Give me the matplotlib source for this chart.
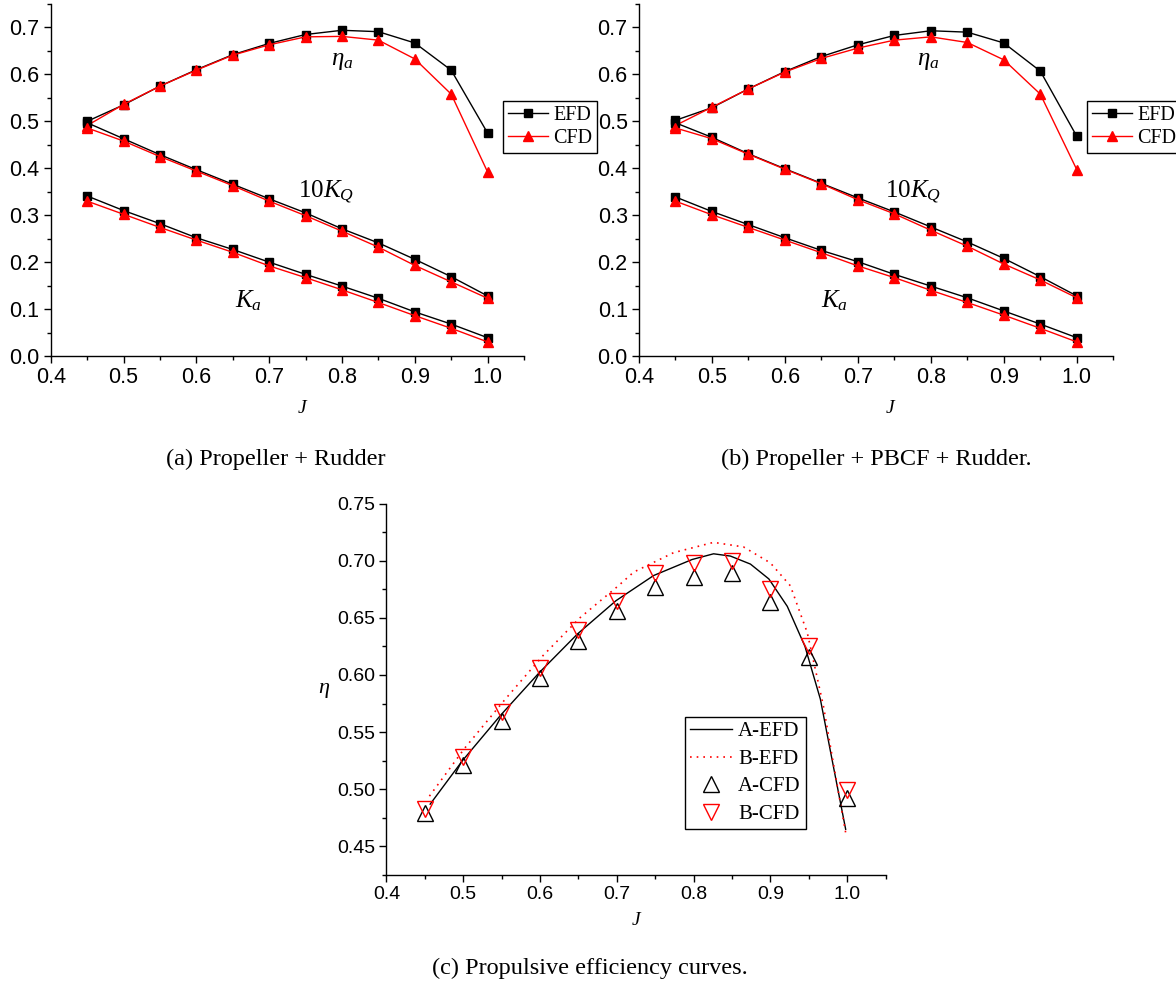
import numpy as np
import matplotlib.pyplot as plt
from matplotlib.ticker import MultipleLocator, FormatStrFormatter

J = [0.45, 0.50, 0.55, 0.60, 0.65, 0.70, 0.75, 0.80, 0.85, 0.90, 0.95, 1.00]

# (a) Propeller + Rudder
a_eta_efd = [0.500, 0.535, 0.575, 0.610, 0.642, 0.666, 0.685, 0.694, 0.691, 0.667, 0.609, 0.475]
a_eta_cfd = [0.491, 0.536, 0.575, 0.609, 0.641, 0.663, 0.680, 0.681, 0.673, 0.633, 0.558, 0.392]
a_kq_efd = [0.497, 0.463, 0.429, 0.397, 0.366, 0.335, 0.305, 0.271, 0.241, 0.206, 0.169, 0.128]
a_kq_cfd = [0.486, 0.458, 0.425, 0.394, 0.363, 0.330, 0.299, 0.266, 0.232, 0.193, 0.158, 0.123]
a_ka_efd = [0.341, 0.310, 0.282, 0.252, 0.227, 0.200, 0.174, 0.149, 0.123, 0.094, 0.068, 0.039]
a_ka_cfd = [0.330, 0.302, 0.274, 0.247, 0.221, 0.192, 0.167, 0.141, 0.114, 0.086, 0.059, 0.030]

# (b) Propeller + PBCF + Rudder
b_eta_efd = [0.502, 0.529, 0.569, 0.606, 0.638, 0.663, 0.683, 0.693, 0.690, 0.667, 0.607, 0.468]
b_eta_cfd = [0.491, 0.530, 0.569, 0.605, 0.634, 0.656, 0.673, 0.680, 0.668, 0.631, 0.558, 0.397]
b_kq_efd = [0.497, 0.466, 0.431, 0.399, 0.368, 0.337, 0.307, 0.275, 0.243, 0.208, 0.169, 0.128]
b_kq_cfd = [0.486, 0.463, 0.430, 0.398, 0.367, 0.333, 0.303, 0.268, 0.234, 0.196, 0.162, 0.124]
b_ka_efd = [0.339, 0.308, 0.280, 0.252, 0.225, 0.201, 0.174, 0.149, 0.124, 0.096, 0.068, 0.039]
b_ka_cfd = [0.330, 0.301, 0.274, 0.247, 0.220, 0.192, 0.167, 0.140, 0.114, 0.087, 0.059, 0.030]

# (c) propulsive efficiency
c_a_cfd = [0.479, 0.521, 0.560, 0.597, 0.630, 0.656, 0.677, 0.686, 0.689, 0.664, 0.616, 0.492]
c_b_cfd = [0.483, 0.528, 0.568, 0.606, 0.639, 0.665, 0.689, 0.698, 0.700, 0.675, 0.625, 0.499]
c_a_efd_j = [0.457, 0.499, 0.549, 0.599, 0.649, 0.699, 0.748, 0.798, 0.826, 0.848, 0.874,
             0.898, 0.922, 0.945, 0.965, 0.982, 0.998]
c_a_efd = [0.487, 0.525, 0.565, 0.602, 0.636, 0.665, 0.687, 0.701, 0.706, 0.704, 0.697,
           0.684, 0.660, 0.625, 0.579, 0.520, 0.465]
c_b_efd_j = [0.456, 0.502, 0.555, 0.604, 0.652, 0.702, 0.722, 0.774, 0.826, 0.865, 0.900,
             0.926, 0.948, 0.969, 0.985, 0.998]
c_b_efd = [0.494, 0.536, 0.579, 0.617, 0.650, 0.678, 0.690, 0.707, 0.716, 0.712, 0.698,
           0.678, 0.637, 0.573, 0.511, 0.462]

W, H = 1176, 986
plt.rcParams['font.family'] = 'Liberation Sans'
plt.rcParams['mathtext.fontset'] = 'custom'
plt.rcParams['mathtext.rm'] = 'Liberation Serif'
plt.rcParams['mathtext.it'] = 'Liberation Serif:italic'
plt.rcParams['axes.linewidth'] = 1.0

fig = plt.figure(figsize=(W / 100, H / 100), dpi=100)
serif = 'Liberation Serif'


def px_axes(left, top, right, bottom):
    return fig.add_axes([left / W, 1 - bottom / H, (right - left) / W, (bottom - top) / H])


def style(ax, ymin, ymax, ymaj, ymin_step, yfmt, fs):
    ax.set_xlim(0.4, 1.05)
    ax.set_ylim(ymin, ymax)
    for s in ['top', 'right']:
        ax.spines[s].set_visible(False)
    ax.xaxis.set_major_locator(MultipleLocator(0.1))
    ax.xaxis.set_minor_locator(MultipleLocator(0.05))
    ax.yaxis.set_major_locator(MultipleLocator(ymaj))
    ax.yaxis.set_minor_locator(MultipleLocator(ymin_step))
    ax.xaxis.set_major_formatter(FormatStrFormatter('%.1f'))
    ax.yaxis.set_major_formatter(FormatStrFormatter(yfmt))
    ax.tick_params(which='major', direction='out', length=5, width=1, labelsize=fs, pad=3)
    ax.tick_params(which='minor', direction='out', length=3, width=1)


def kt_panel(ax, eta_e, eta_c, kq_e, kq_c, ka_e, ka_c, leg_left, ann):
    style(ax, 0, 0.75, 0.1, 0.05, '%.1f', 15.5)
    for ye, yc in [(eta_e, eta_c), (kq_e, kq_c), (ka_e, ka_c)]:
        ax.plot(J, ye, color='black', lw=1, marker='s', ms=5.5, label='EFD')
        ax.plot(J, yc, color='red', lw=1, marker='^', ms=6.5, label='CFD')
    h, l = ax.get_legend_handles_labels()
    fig.legend(h[:2], l[:2], loc='upper left', bbox_to_anchor=(leg_left / W, 1 - 101 / H),
               bbox_transform=fig.transFigure, borderaxespad=0, frameon=True, fancybox=False,
               edgecolor='black', framealpha=1, prop={'family': serif, 'size': 14.5},
               handlelength=2.0, handletextpad=0.25, borderpad=0.25, labelspacing=0.2)
    ax.text(ann[0], 0.630, r'$\eta_a$', fontsize=18, ha='left', va='center')
    ax.text(ann[1], 0.351, r'$\mathrm{10}K_Q$', fontsize=18, ha='left', va='center')
    ax.text(ann[2], 0.117, r'$K_a$', fontsize=18, ha='left', va='center')
    ax.set_xlabel('J', fontsize=14, family=serif, style='italic')
    ax.xaxis.set_label_coords(0.53, -0.125)


ax1 = px_axes(50.7, 4, 524, 356)
kt_panel(ax1, a_eta_efd, a_eta_cfd, a_kq_efd, a_kq_cfd, a_ka_efd, a_ka_cfd, 503,
         (0.785, 0.740, 0.653))

ax2 = px_axes(638.8, 4, 1113.3, 356)
kt_panel(ax2, b_eta_efd, b_eta_cfd, b_kq_efd, b_kq_cfd, b_ka_efd, b_ka_cfd, 1087,
         (0.781, 0.737, 0.650))

ax3 = px_axes(386.4, 503.5, 885.6, 875)
style(ax3, 0.425, 0.75, 0.05, 0.025, '%.2f', 14)
ax3.plot(c_a_efd_j, c_a_efd, color='black', lw=1, label='A-EFD')
ax3.plot(c_b_efd_j, c_b_efd, color='red', lw=1.2, ls=(0, (1, 3)), label='B-EFD')
ax3.plot(J, c_a_cfd, ls='none', marker='^', ms=11, mfc='none', mec='black', mew=1,
         label='A-CFD')
ax3.plot(J, c_b_cfd, ls='none', marker='v', ms=11, mfc='none', mec='red', mew=1,
         label='B-CFD')
fig.legend(*ax3.get_legend_handles_labels(), loc='upper left',
           bbox_to_anchor=(685 / W, 1 - 716.7 / H), bbox_transform=fig.transFigure,
           borderaxespad=0, frameon=True, fancybox=False, edgecolor='black', framealpha=1,
           prop={'family': serif, 'size': 15}, handlelength=2.0, handletextpad=0.3,
           borderpad=0.25, labelspacing=0.38)
ax3.set_xlabel('J', fontsize=14, family=serif, style='italic')
ax3.xaxis.set_label_coords(0.5, -0.1)
ax3.text(-0.125, 0.5, r'$\eta$', fontsize=16, transform=ax3.transAxes,
         ha='center', va='center')

fig.text(276 / W, 1 - 459 / H, '(a) Propeller + Rudder', family=serif, fontsize=17.5,
         ha='center', va='center')
fig.text(876 / W, 1 - 459 / H, '(b) Propeller + PBCF + Rudder.', family=serif, fontsize=17.5,
         ha='center', va='center')
fig.text(590 / W, 1 - 968 / H, '(c) Propulsive efficiency curves.', family=serif, fontsize=17.5,
         ha='center', va='center')

fig.savefig('out.png', dpi=100)
